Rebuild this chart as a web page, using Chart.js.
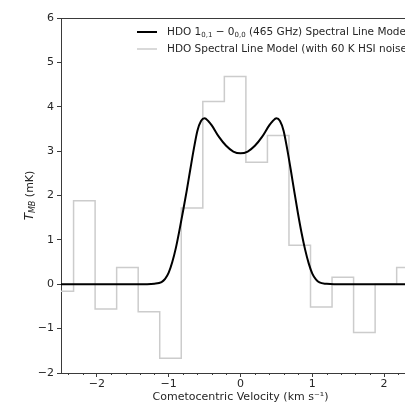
<!DOCTYPE html>
<html>
<head>
<meta charset="utf-8">
<script src="https://cdn.jsdelivr.net/npm/chart.js@4/dist/chart.umd.min.js"></script>
<style>
  html, body { margin: 0; padding: 0; background: #fff; overflow: hidden; }
  #wrap { width: 440px; height: 404px; }
</style>
</head>
<body>
<div id="wrap"><canvas id="spec" width="440" height="404"></canvas></div>
<script>
// HDO 1(0,1)-0(0,0) line: model profile (km/s, mK)
const modelVelocity = [
  -2.5, -1.3, -1.2, -1.1, -1.05, -1.0, -0.95, -0.9, -0.85, -0.8, -0.75, -0.7, -0.65, -0.6, -0.55,
  -0.5, -0.45, -0.4, -0.3, -0.2, -0.1, 0.0, 0.1, 0.2, 0.3, 0.4, 0.45, 0.5,
  0.55, 0.6, 0.65, 0.7, 0.75, 0.8, 0.85, 0.9, 0.95, 1.0, 1.05, 1.1, 1.2, 1.3, 2.5
];
const modelTmb = [
  0.0, 0.0, 0.01, 0.05, 0.12, 0.26, 0.5, 0.82, 1.22, 1.65, 2.1, 2.58, 3.05, 3.46, 3.68,
  3.74, 3.68, 3.58, 3.32, 3.12, 2.99, 2.95, 2.99, 3.12, 3.32, 3.58, 3.68, 3.74,
  3.68, 3.46, 3.05, 2.58, 2.08, 1.6, 1.16, 0.78, 0.47, 0.24, 0.11, 0.04, 0.01, 0.0, 0.0
];

// Same model with 60 K HSI noise, binned into 0.3 km/s channels
const channelEdges = [
  -2.625, -2.325, -2.025, -1.725, -1.425, -1.125, -0.825, -0.525, -0.225,
  0.075, 0.375, 0.675, 0.975, 1.275, 1.575, 1.875, 2.175, 2.475
];
const noisyTmb = [
  -0.16, 1.88, -0.56, 0.38, -0.62, -1.67, 1.72, 4.12, 4.68,
  2.75, 3.35, 0.88, -0.51, 0.16, -1.09, 0.0, 0.38
];

const xTicks = [-2, -1, 0, 1, 2];
const yTicks = [-2, -1, 0, 1, 2, 3, 4, 5, 6];

const labelModel = [['HDO 1', 0], ['0,1', 1], [' \u2212 0', 0], ['0,0', 1], [' (465 GHz) Spectral Line Model', 0]];
const labelNoisy = [['HDO Spectral Line Model (with 60 K HSI noise)', 0]];

const FONT = '"DejaVu Sans", sans-serif';
const INK = '#262626';
const SPINE = '#3a3a3a';

const modelPoints = modelVelocity.map((v, i) => ({ x: v, y: modelTmb[i] }));
// each channel value holds from its left edge to the next edge
const noisyPoints = channelEdges.map((v, i) => ({ x: v, y: noisyTmb[Math.max(0, i - 1)] }));

const minus = v => String(v).replace('-', '\u2212');

// text run helper: [text, isSubscript]
function drawRuns(ctx, runs, x, y, size) {
  let cx = x;
  for (const [t, sub] of runs) {
    ctx.font = (sub ? Math.round(size * 0.7) : size) + 'px ' + FONT;
    ctx.fillText(t, cx, sub ? y + size * 0.28 : y);
    cx += ctx.measureText(t).width;
  }
}

const extras = {
  id: 'extras',
  afterDraw(chart) {
    const ctx = chart.ctx;
    const a = chart.chartArea;
    const xs = chart.scales.x;
    ctx.save();
    // top and right spines
    ctx.strokeStyle = SPINE;
    ctx.lineWidth = 1;
    ctx.beginPath();
    ctx.moveTo(a.left, a.top + 0.5);
    ctx.lineTo(a.right, a.top + 0.5);
    ctx.moveTo(a.right - 0.5, a.top);
    ctx.lineTo(a.right - 0.5, a.bottom);
    ctx.stroke();
    // minor x ticks every 0.2
    ctx.beginPath();
    for (let k = -12; k <= 12; k++) {
      if (k % 5 === 0) continue;
      const px = Math.round(xs.getPixelForValue(k * 0.2)) + 0.5;
      ctx.moveTo(px, a.bottom);
      ctx.lineTo(px, a.bottom + 2);
    }
    ctx.stroke();

    // legend
    const lx = a.right - 283;
    const rows = [
      { y: a.top + 14, color: '#000000', w: 2, runs: labelModel },
      { y: a.top + 31, color: '#cccccc', w: 1.5, runs: labelNoisy }
    ];
    ctx.textBaseline = 'middle';
    ctx.fillStyle = INK;
    for (const r of rows) {
      ctx.strokeStyle = r.color;
      ctx.lineWidth = r.w;
      ctx.beginPath();
      ctx.moveTo(lx, r.y);
      ctx.lineTo(lx + 20, r.y);
      ctx.stroke();
      drawRuns(ctx, r.runs, lx + 30, r.y, 10.5);
    }

    // x title
    ctx.textAlign = 'center';
    ctx.font = '11px ' + FONT;
    const xt = 'Cometocentric Velocity (km s\u207B\u00B9)';
    ctx.fillText(xt, (a.left + a.right) / 2, 397);

    // y title: T_MB (mK)
    ctx.translate(30, (a.top + a.bottom) / 2);
    ctx.rotate(-Math.PI / 2);
    ctx.textAlign = 'left';
    const parts = [['T', 'italic 12px ', 0], ['MB', 'italic 8px ', 3], [' (mK)', '11px ', 0]];
    let total = 0;
    for (const p of parts) { ctx.font = p[1] + FONT; total += ctx.measureText(p[0]).width; }
    let cx = -total / 2;
    for (const p of parts) {
      ctx.font = p[1] + FONT;
      ctx.fillText(p[0], cx, p[2]);
      cx += ctx.measureText(p[0]).width;
    }
    ctx.restore();
  }
};

new Chart(document.getElementById('spec'), {
  type: 'line',
  data: {
    datasets: [
      {
        label: 'HDO 1(0,1) \u2212 0(0,0) (465 GHz) Spectral Line Model',
        data: modelPoints,
        borderColor: '#000000',
        borderWidth: 2,
        pointRadius: 0,
        cubicInterpolationMode: 'monotone',
        order: 0
      },
      {
        label: 'HDO Spectral Line Model (with 60 K HSI noise)',
        data: noisyPoints,
        borderColor: '#cccccc',
        borderWidth: 1.5,
        pointRadius: 0,
        stepped: 'after',
        order: 1
      }
    ]
  },
  options: {
    responsive: false,
    animation: false,
    events: [],
    layout: { padding: { left: 0, top: 18, right: 20, bottom: 0 } },
    plugins: { legend: { display: false }, tooltip: { enabled: false } },
    scales: {
      x: {
        type: 'linear',
        min: -2.5,
        max: 2.5,
        afterFit: s => { s.height = 31; },
        afterBuildTicks: s => { s.ticks = xTicks.map(v => ({ value: v })); },
        ticks: { color: INK, font: { family: FONT, size: 11 }, padding: 1, callback: v => minus(v), maxRotation: 0 },
        grid: { drawOnChartArea: false, drawTicks: true, tickLength: 4, color: SPINE },
        border: { display: true, color: SPINE, width: 1 }
      },
      y: {
        min: -2,
        max: 6,
        afterFit: s => { s.width = 61; },
        afterBuildTicks: s => { s.ticks = yTicks.map(v => ({ value: v })); },
        ticks: { color: INK, font: { family: FONT, size: 11 }, padding: 3, callback: v => minus(v) },
        grid: { drawOnChartArea: false, drawTicks: true, tickLength: 4, color: SPINE },
        border: { display: true, color: SPINE, width: 1 }
      }
    }
  },
  plugins: [extras]
});
</script>
</body>
</html>
